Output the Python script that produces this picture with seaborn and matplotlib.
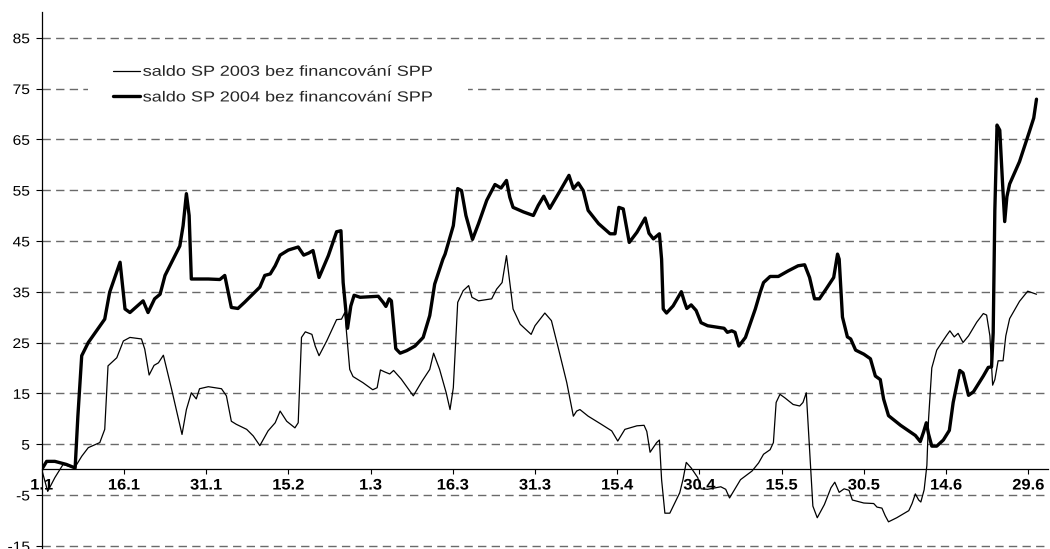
import matplotlib
matplotlib.use("Agg")
import matplotlib.pyplot as plt
from matplotlib.patheffects import AbstractPathEffect
from matplotlib.transforms import Affine2D
import pandas as pd
import seaborn as sns

# Day index counted from 1 January; values in bn SKK
days_2003 = [0, 1.1, 2.4, 3.9, 6.0, 7.3, 8.5, 10.6, 11.5, 12.1, 13.7, 14.9, 16.1, 18.2, 18.8,
             19.6, 20.5, 21.3, 22.2, 23.7, 25.6, 26.4, 27.3, 28.2, 28.8, 30.4, 32.8, 33.7,
             34.6, 35.5, 37.4, 38.6, 39.8, 41.3, 42.6, 43.5, 44.7, 46.2, 46.8, 47.4, 48.1,
             49.3, 49.9, 50.6, 52.0, 53.8, 54.7, 55.3, 56.2, 56.8, 58.6, 60.4, 61.2, 61.8,
             62.6, 63.5, 64.2, 65.6, 67.8, 69.4, 70.8, 71.5, 72.6, 73.8, 74.5, 75.1, 75.9,
             76.9, 77.9, 78.5, 79.7, 82.1, 83.0, 84.0, 84.8, 85.4, 86.0, 87.3, 89.3, 90.0,
             91.8, 93.0, 94.3, 95.8, 97.0, 97.6, 98.2, 99.7, 102.1, 104.0, 105.1, 106.4,
             108.6, 109.9, 110.4, 111.0, 112.2, 112.7, 113.1, 113.7, 114.6, 116.4, 117.0,
             117.6, 118.5, 119.7, 120.3, 121.5, 123.9, 124.8, 125.5, 126.6, 127.5, 129.6,
             130.8, 131.7, 132.9, 133.5, 134.0, 134.7, 135.6, 137.1, 138.3, 138.9, 139.5,
             140.1, 140.7, 141.5, 142.8, 144.0, 144.7, 145.5, 146.4, 147.3, 147.9, 150.0,
             151.8, 152.4, 153.3, 153.9, 154.5, 156.0, 158.2, 158.8, 159.4, 160.0, 160.4,
             161.0, 161.5, 161.8, 162.4, 163.3, 165.1, 165.7, 166.5, 167.2, 168.1, 169.1,
             170.6, 171.8, 172.4, 173.0, 173.5, 173.9, 174.5, 175.4, 175.9, 176.6, 178.4,
             179.9, 181.5]
saldo_2003 = [0, -4.3, -1.6, 1.0, 0.3, 2.6, 4.3, 5.3, 7.9, 20.4, 22.0, 25.3, 26.0, 25.7, 23.7,
              18.6, 20.5, 21.0, 22.5, 15.8, 6.9, 11.8, 15.1, 13.9, 15.9, 16.3, 15.9, 14.5,
              9.5, 8.9, 7.9, 6.6, 4.7, 7.6, 9.2, 11.5, 9.5, 8.2, 9.2, 26.0, 27.1,
              26.6, 24.3, 22.4, 25.3, 29.5, 29.6, 30.9, 19.7, 18.3, 17.1, 15.7, 16.1, 19.6,
              19.2, 18.8, 19.5, 17.8, 14.5, 17.4, 19.7, 22.9, 19.7, 15.1, 11.8, 16.1, 32.9,
              35.2, 36.2, 33.9, 33.2, 33.6, 35.5, 36.8, 42.1, 36.8, 31.6, 28.6, 26.6, 28.3,
              30.8, 29.3, 23.7, 17.1, 10.5, 11.5, 11.8, 10.5, 8.9, 7.6, 5.6, 7.9,
              8.6, 8.7, 7.5, 3.4, 5.3, 5.8, -2.0, -8.6, -8.6, -4.6, -2.0,
              1.4, 0.3, -1.6, -3.8, -3.9, -3.4, -3.9, -5.6, -3.6, -2.0, -0.3,
              1.3, 3.0, 3.9, 5.3, 13.2, 14.8, 14.1, 12.8, 12.5, 13.2, 15.1,
              3.9, -7.2, -9.5, -6.9, -3.6, -2.5, -4.5, -3.8, -4.1, -6.0, -6.6,
              -6.7, -7.4, -7.6, -9.1, -10.3, -9.5, -8.1, -6.7, -4.8, -6.0, -6.4,
              -4.0, 0.8, 9.8, 20.0, 23.5, 26.4, 27.3, 26.1, 26.8, 25.0, 26.3,
              29.0, 30.7, 30.4, 26.3, 16.6, 17.7, 21.4, 21.4, 26.3, 29.7, 33.1,
              35.1, 34.5]

days_2004 = [0, 0.9, 2.4, 4.5, 6.1, 6.6, 7.3, 8.5, 11.5, 12.4, 14.3, 15.2, 16.1, 18.5, 19.4,
             20.6, 21.6, 22.5, 25.2, 25.8, 26.4, 26.9, 27.3, 30.4, 32.5, 33.4, 34.6, 35.8,
             37.0, 39.8, 40.7, 41.7, 42.6, 43.5, 45.0, 46.8, 47.8, 48.7, 49.5, 50.6, 52.3,
             53.8, 54.6, 55.0, 55.8, 56.4, 57.0, 58.1, 61.4, 62.3, 62.8, 63.4, 63.8, 64.6,
             65.4, 66.6, 68.1, 69.6, 70.8, 71.7, 73.2, 73.6, 75.1, 75.9, 76.6, 77.4, 78.6,
             79.7, 81.2, 82.7, 83.8, 84.8, 85.4, 86.0, 87.9, 89.7, 90.6, 91.6, 92.7, 94.6,
             96.2, 97.0, 97.9, 98.8, 99.7, 101.6, 103.7, 104.6, 105.3, 106.1, 107.2, 108.6,
             110.1, 110.8, 111.6, 112.7, 113.1, 113.4, 114.0, 115.2, 116.7, 117.3, 117.7,
             118.5, 119.4, 120.3, 121.5, 124.5, 125.1, 125.9, 126.5, 127.2, 128.4, 130.2,
             131.1, 131.7, 132.9, 134.4, 136.2, 138.0, 139.2, 140.1, 141.0, 141.9, 143.1,
             144.5, 145.2, 145.5, 146.1, 147.0, 147.6, 148.5, 150.0, 151.2, 152.1, 153.0,
             153.6, 154.5, 156.7, 159.4, 160.3, 160.9, 161.4, 161.8, 162.4, 163.3, 164.5,
             165.6, 166.3, 167.5, 168.1, 169.1, 170.0, 171.8, 172.7, 173.3, 173.6, 173.9,
             174.3, 174.8, 175.3, 175.7, 176.1, 176.6, 178.4, 180.2, 181.0, 181.5]
saldo_2004 = [0, 1.6, 1.6, 1.0, 0.3, 10.5, 22.4, 25.0, 29.6, 34.9, 40.8, 31.6, 30.9, 33.2, 30.9,
              33.6, 34.5, 38.2, 44.0, 48.0, 54.3, 50.0, 37.5, 37.5, 37.4, 38.2, 31.9, 31.7,
              32.9, 35.9, 38.2, 38.5, 40.1, 42.2, 43.2, 43.8, 42.2, 42.6, 43.1, 37.8, 42.1,
              46.8, 47.0, 36.8, 27.8, 32.2, 34.3, 33.9, 34.1, 32.9, 32.1, 33.6, 33.2, 23.8,
              22.9, 23.4, 24.3, 26.0, 30.3, 36.5, 41.4, 42.4, 48.0, 55.3, 54.9, 50.0, 45.3,
              48.4, 53.0, 56.1, 55.4, 56.9, 53.6, 51.6, 50.7, 50.0, 52.0, 53.8, 51.4, 54.9,
              57.9, 55.3, 56.4, 54.9, 51.0, 48.4, 46.4, 46.4, 51.6, 51.3, 44.7, 46.7,
              49.5, 46.5, 45.4, 46.4, 41.4, 31.6, 30.8, 32.2, 35.0, 32.9, 31.7,
              32.4, 31.3, 28.9, 28.3, 27.8, 27.0, 27.3, 27.0, 24.3, 26.0, 31.6,
              34.9, 36.8, 38.0, 38.0, 39.1, 40.1, 40.3, 37.8, 33.6, 33.6, 35.5,
              37.8, 42.4, 41.4, 30.0, 26.1, 25.7, 23.5, 22.7, 21.8, 18.4, 17.7,
              13.9, 10.6, 8.7, 6.7, 5.5, 7.4, 9.2, 7.0, 4.6, 4.6, 5.8,
              7.7, 13.2, 19.5, 19.0, 14.6, 15.3, 18.4, 20.1, 20.2, 26.9, 51.0,
              67.8, 66.8, 56.5, 48.8, 53.7, 56.2, 60.6, 66.5, 69.2, 72.9]

label_2003 = "saldo SP 2003 bez financování SPP"
label_2004 = "saldo SP 2004 bez financování SPP"

tick_days = list(range(0, 181, 15))
tick_labels = ["1.1", "16.1", "31.1", "15.2", "1.3", "16.3", "31.3",
               "15.4", "30.4", "15.5", "30.5", "14.6", "29.6"]
y_ticks = list(range(-15, 86, 10))


class HStretch(AbstractPathEffect):
    """Widen text glyphs horizontally around a chosen anchor edge."""

    def __init__(self, sx, anchor="left"):
        super().__init__()
        self.sx = sx
        self.anchor = anchor

    def draw_path(self, renderer, gc, tpath, affine, rgbFace=None):
        ext = tpath.get_extents()
        if self.anchor == "center":
            cx = 0.5 * (ext.x0 + ext.x1)
        elif self.anchor == "right":
            cx = ext.x1
        else:
            cx = 0.0
        st = Affine2D().translate(-cx, 0).scale(self.sx, 1.0).translate(cx, 0)
        renderer.draw_path(gc, tpath, st + affine, rgbFace)


sns.set_theme(style="white")
plt.rcParams["font.family"] = ["Liberation Sans", "DejaVu Sans"]

W, H = 1050, 549
fig = plt.figure(figsize=(W / 100, H / 100), dpi=100)
ax_left, ax_right, ax_top = 41.7, 1048, 12
ax = fig.add_axes([ax_left / W, 0, (ax_right - ax_left) / W, (H - ax_top) / H])

df03 = pd.DataFrame({"den": days_2003, "saldo": saldo_2003})
df04 = pd.DataFrame({"den": days_2004, "saldo": saldo_2004})

sns.lineplot(data=df03, x="den", y="saldo", ax=ax, color="black", linewidth=0.9,
             estimator=None, sort=False, label=label_2003,
             solid_joinstyle="round", solid_capstyle="round")
sns.lineplot(data=df04, x="den", y="saldo", ax=ax, color="black", linewidth=2.4,
             estimator=None, sort=False, label=label_2004,
             solid_joinstyle="round", solid_capstyle="round")

ax.set_xlim(0, 183.6)
ax.set_ylim(-15.65, 90.06)
ax.set_xlabel("")
ax.set_ylabel("")

ax.set_yticks(y_ticks)
ax.set_yticklabels([str(v) for v in y_ticks], fontsize=10)
ax.set_xticks(tick_days)
ax.set_xticklabels(tick_labels, fontsize=7.6, fontweight="bold")

ax.set_axisbelow(True)
ax.yaxis.grid(True, color="#6a6a6a", linewidth=1.0, linestyle=(0, (6, 3.8)))
ax.xaxis.grid(False)

for side in ("top", "right"):
    ax.spines[side].set_visible(False)
ax.spines["left"].set_color("black")
ax.spines["left"].set_linewidth(0.9)
ax.spines["bottom"].set_color("black")
ax.spines["bottom"].set_linewidth(0.9)
ax.spines["bottom"].set_position(("data", 0))

ax.tick_params(axis="y", left=True, direction="out", length=4, width=0.8,
               pad=4.5, colors="black")
ax.tick_params(axis="x", bottom=True, direction="out", length=3.5, width=0.8,
               pad=3, colors="black")

# White legend box spanning x = 88..468 px, top edge at y = 40 px
box_h = 0.1
leg = ax.legend(loc="upper left",
                bbox_to_anchor=(88 / W, 1 - 40 / H - box_h, 380 / W, box_h),
                bbox_transform=fig.transFigure, mode="expand",
                frameon=True, facecolor="white", edgecolor="none", framealpha=1,
                fancybox=False, fontsize=10.5, handlelength=1.85,
                handletextpad=0.2, labelspacing=0.8, borderpad=1.7,
                borderaxespad=0)

fig.canvas.draw()
for t in ax.get_yticklabels():
    t.set_path_effects([HStretch(1.12, "right")])
for t in ax.get_xticklabels():
    t.set_fontweight("bold")
    t.set_path_effects([HStretch(1.08, "center")])
for t in leg.get_texts():
    t.set_path_effects([HStretch(1.24, "left")])

fig.savefig("out.png", dpi=100)
